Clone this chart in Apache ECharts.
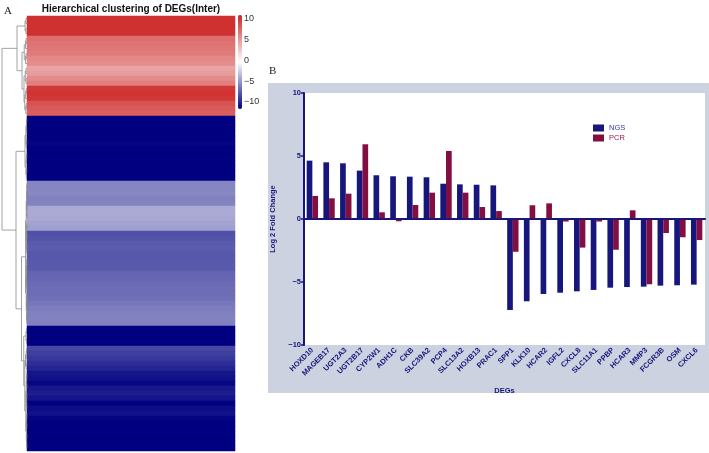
<!DOCTYPE html>
<html>
<head>
<meta charset="utf-8" />
<title>DEGs</title>
<style>
  html, body, #main { width: 100%; height: 100%; margin: 0; overflow: hidden; background: #fff; }
</style>
</head>
<body>
<div id="main"></div>
<script src="https://cdn.jsdelivr.net/npm/echarts@6.0.0/dist/echarts.min.js"></script>
<script>
// heatmap rows, top to bottom (log2 fold change per gene)
var heatValues = [
  10, 10, 10, 10, 7, 6.8, 6.6, 6.4, 5.8, 5.5, 4.4, 4.8, 5.6, 6.2, 9.6, 9.9, 9.7, 8.3, 8, 7.8,
  -10.5, -10.5, -10.4, -10.5, -10.5, -10.3, -10.5, -10.5, -10.4, -10.5, -10.5, -10.5, -10.4,
  -5, -5, -4.9, -5.2, -5.1, -3.5, -3.5, -3.6, -3.8, -3.9,
  -7.2, -7.1, -6.8, -6.7, -6.9, -6.9, -6.8, -6.8, -6.4, -6.3, -6.1, -6, -6, -5.9, -5.6, -5.4, -5.2, -5.1, -5.2,
  -10.5, -10.5, -10.5, -10.5,
  -7.6, -7.9, -8.2, -8.6, -9,
  -9.6, -9.8, -10.2, -9.5, -9.3, -9.7, -10.4, -10, -9.8, -10.3, -10.5, -10.5, -10.4, -10.5, -10.5, -10.5
];
var scaleTicks = [10, 5, 0, -5, -10];

// dendrogram: merge heights, leaves given as row ranges
var dendro = { h: 10, kids: [
  { h: 4, kids: [
    { h: 0.8, rows: [0, 3] },
    { h: 2, kids: [
      { h: 1.1, rows: [4, 9] },
      { h: 1.2, kids: [ { h: 0.7, rows: [10, 13] }, { h: 0.9, rows: [14, 19] } ] }
    ] }
  ] },
  { h: 4.4, kids: [
    { h: 0.8, rows: [20, 32] },
    { h: 2.2, kids: [
      { h: 0.6, rows: [33, 61] },
      { h: 1.3, kids: [
        { h: 0.4, rows: [62, 65] },
        { h: 0.9, kids: [ { h: 0.6, rows: [66, 70] }, { h: 0.5, rows: [71, 86] } ] }
      ] }
    ] }
  ] }
] };

// panel B
var genes = ['HOXD10', 'MAGEB17', 'UGT2A3', 'UGT2B17', 'CYP2W1', 'ADH1C', 'CKB', 'SLC39A2',
  'PCP4', 'SLC13A2', 'HOXB13', 'PRAC1', 'SPP1', 'KLK10', 'HCAR2', 'IGFL2', 'CXCL8',
  'SLC11A1', 'PPBP', 'HCAR3', 'MMP3', 'FCGR3B', 'OSM', 'CXCL6'];
var ngs = [4.63, 4.5, 4.42, 3.84, 3.47, 3.39, 3.36, 3.31, 2.8, 2.75, 2.72, 2.67,
  -7.22, -6.53, -5.95, -5.85, -5.74, -5.63, -5.45, -5.4, -5.37, -5.29, -5.26, -5.21];
var pcr = [1.83, 1.64, 2.01, 5.93, 0.53, -0.18, 1.11, 2.09, 5.4, 2.09, 0.95, 0.63,
  -2.6, 1.09, 1.24, -0.2, -2.27, -0.2, -2.44, 0.69, -5.18, -1.11, -1.45, -1.67];

var navy = '#16167c';
var maroon = '#830f42';
var minus = function (v) { return String(v).replace('-', '\u2212'); };

// turn the tree into bracket segments [yA, hA, yB, hB, h]
var segs = [];
function rangeTree(a, b, h) {
  if (a === b) return { y: a + 0.5, h: 0 };
  var m = Math.floor((a + b) / 2);
  var L = rangeTree(a, m, h * 0.55), R = rangeTree(m + 1, b, h * 0.55);
  segs.push([L.y, L.h, R.y, R.h, h]);
  return { y: (L.y + R.y) / 2, h: h };
}
function walk(node) {
  if (node.rows) return rangeTree(node.rows[0], node.rows[1], node.h);
  var L = walk(node.kids[0]), R = walk(node.kids[1]);
  segs.push([L.y, L.h, R.y, R.h, node.h]);
  return { y: (L.y + R.y) / 2, h: node.h };
}
walk(dendro);

var rowNames = heatValues.map(function (v, i) { return 'g' + i; });
var heatData = heatValues.map(function (v, i) { return [0, i, v]; });

var chart = echarts.init(document.getElementById('main'));
chart.setOption({
  animation: false,
  textStyle: { fontFamily: 'Liberation Sans' },
  title: [
    { text: 'Hierarchical clustering of DEGs(Inter)', left: 131, textAlign: 'center', top: 4, padding: 0,
      textStyle: { fontSize: 10, fontWeight: 'bold', color: '#111' } },
    { text: 'A', left: 4, top: 6, padding: 0,
      textStyle: { fontSize: 11, fontWeight: 'normal', fontFamily: 'Liberation Serif', color: '#222' } },
    { text: 'B', left: 269, top: 66, padding: 0,
      textStyle: { fontSize: 11, fontWeight: 'normal', fontFamily: 'Liberation Serif', color: '#222' } }
  ],
  graphic: [
    { type: 'rect', z: -1, shape: { x: 268, y: 83, width: 441, height: 310 }, style: { fill: '#ccd2e0' } }
  ],
  grid: [
    { left: 240, top: 19, width: 1, height: 83 },
    { left: 27, top: 16, width: 208, height: 435 },
    { left: 0, top: 16, width: 27, height: 435 },
    { left: 304, top: 93, width: 401, height: 252, show: true, backgroundColor: '#fff', borderWidth: 0 }
  ],
  xAxis: [
    { gridIndex: 0, type: 'value', show: false },
    { gridIndex: 1, type: 'category', data: ['S'], show: false },
    { gridIndex: 2, type: 'value', min: 0, max: 10.8, inverse: true, show: false },
    { gridIndex: 3, type: 'category', data: genes,
      axisLine: { lineStyle: { color: navy, width: 2 } },
      axisTick: { alignWithLabel: true, length: 3, lineStyle: { color: navy, width: 1.5 } },
      axisLabel: { interval: 0, rotate: 45, margin: 4, fontSize: 7.5, fontWeight: 'bold', color: navy },
      name: 'DEGs', nameLocation: 'middle', nameGap: 42,
      nameTextStyle: { fontSize: 7.5, fontWeight: 'bold', color: navy } }
  ],
  yAxis: [
    { gridIndex: 0, type: 'value', position: 'right', min: -10, max: 10, interval: 5,
      axisLine: { show: false }, axisTick: { show: false }, splitLine: { show: false },
      axisLabel: { margin: 3, fontSize: 9, color: '#333', formatter: minus } },
    { gridIndex: 1, type: 'category', data: rowNames, inverse: true, show: false },
    { gridIndex: 2, type: 'value', min: 0, max: heatValues.length, inverse: true, show: false },
    { gridIndex: 3, type: 'value', min: -10, max: 10, interval: 5,
      axisLine: { show: true, lineStyle: { color: navy, width: 2 } },
      axisTick: { show: true, length: 3, lineStyle: { color: navy, width: 1.5 } },
      splitLine: { show: false },
      axisLabel: { margin: 3, fontSize: 7.5, fontWeight: 'bold', color: navy, formatter: minus },
      name: 'Log 2 Fold Change', nameLocation: 'middle', nameGap: 18,
      nameTextStyle: { fontSize: 7.5, fontWeight: 'bold', color: navy } }
  ],
  visualMap: {
    type: 'continuous', seriesIndex: 0, min: -10.5, max: 10.5, calculable: false,
    left: 238, top: 15, itemWidth: 4, itemHeight: 94, padding: 0,
    inRange: { color: ['#000080', '#ffffff', '#cd2626'] }
  },
  legend: {
    orient: 'vertical', left: 593, top: 124, padding: 0, itemWidth: 11, itemHeight: 7, itemGap: 2,
    icon: 'rect', textStyle: { fontSize: 7.5 },
    data: [
      { name: 'NGS', textStyle: { color: '#3434b0' } },
      { name: 'PCR', textStyle: { color: '#9a1a4e' } }
    ]
  },
  series: [
    { type: 'heatmap', xAxisIndex: 1, yAxisIndex: 1, data: heatData, itemStyle: { borderWidth: 0 } },
    { type: 'custom', xAxisIndex: 2, yAxisIndex: 2, data: segs, silent: true,
      renderItem: function (params, api) {
        var a = api.coord([api.value(1), api.value(0)]);
        var a2 = api.coord([api.value(4), api.value(0)]);
        var b2 = api.coord([api.value(4), api.value(2)]);
        var b = api.coord([api.value(3), api.value(2)]);
        return { type: 'polyline', shape: { points: [a, a2, b2, b] },
          style: { stroke: '#8a8a8a', fill: 'none', lineWidth: 0.8 } };
      } },
    { name: 'NGS', type: 'bar', xAxisIndex: 3, yAxisIndex: 3, data: ngs,
      barWidth: '34%', barGap: '0%', itemStyle: { color: navy },
      markLine: { silent: true, symbol: 'none', label: { show: false },
        lineStyle: { color: navy, width: 1.5, type: 'solid' }, data: [{ yAxis: 0 }] } },
    { name: 'PCR', type: 'bar', xAxisIndex: 3, yAxisIndex: 3, data: pcr,
      barWidth: '34%', barGap: '0%', itemStyle: { color: maroon } }
  ]
});
</script>
</body>
</html>
